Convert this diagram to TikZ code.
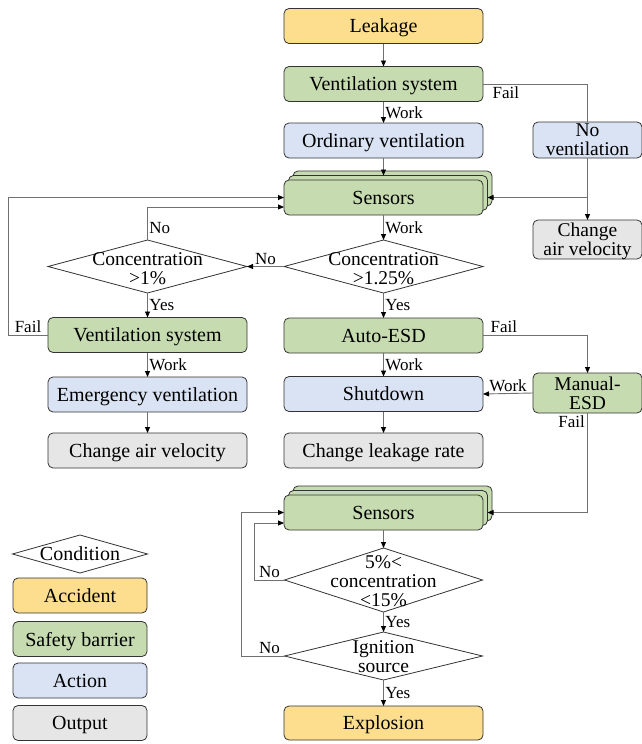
\documentclass[tikz,border=0pt]{standalone}
\usepackage{fontspec}
\setmainfont{Liberation Serif}
\usetikzlibrary{arrows.meta,shapes.geometric,calc}
\definecolor{cyel}{HTML}{FDDE8E}
\definecolor{cgrn}{HTML}{C6DCB0}
\definecolor{cblu}{HTML}{DAE3F3}
\definecolor{cgry}{HTML}{E6E6E6}
\definecolor{cline}{HTML}{707070}
\definecolor{cbord}{HTML}{333333}
\begin{document}
\begin{tikzpicture}[x=1pt,y=-1pt,
  box/.style={rectangle, rounded corners=5pt, draw=cbord, line width=0.8pt,
    minimum width=199pt, minimum height=35pt, inner sep=0pt, outer sep=0pt,
    align=center, text depth=0pt, font=\fontsize{20}{19}\selectfont},
  sbox/.style={box, minimum width=109pt, font=\fontsize{19.5}{19}\selectfont},
  yel/.style={fill=cyel}, grn/.style={fill=cgrn}, blu/.style={fill=cblu}, gry/.style={fill=cgry},
  dia/.style={diamond, draw=cbord, line width=0.8pt, fill=white, inner sep=0pt, outer sep=0pt,
    minimum width=199pt, minimum height=53pt},
  dtext/.style={align=center, inner sep=0pt, font=\fontsize{19.5}{19}\selectfont},
  lab/.style={inner sep=1.5pt, font=\fontsize{17}{17}\selectfont},
  con/.style={draw=cline, line width=0.9pt},
  arr/.style={con, -{Triangle[length=6pt,width=5pt,color=black]}},
]
\useasboundingbox (0,0) rectangle (642,744);

% main column
\node[box,yel] (leak) at (383.5,26) {Leakage};
\node[box,grn] (vs) at (383.5,84) {Ventilation system};
\node[box,blu] (ov) at (383.5,140.5) {Ordinary ventilation};
\node[box,grn] (s1c) at (392.5,188.5) {};
\node[box,grn] (s1b) at (388,193) {};
\node[box,grn] (s1) at (383.5,197.5) {Sensors};
\node[dia] (d125) at (383.5,266.5) {};
\node[dtext] (d125t) at (383.5,269) {Concentration\\>1.25\%};
\node[box,grn] (aesd) at (383.5,335.5) {Auto-ESD};
\node[box,blu] (shut) at (383.5,394) {Shutdown};
\node[box,gry] (clr) at (383.5,450.5) {Change leakage rate};

% right column
\node[sbox,blu,minimum height=36pt] (nov) at (587.5,140) {No\\ventilation};
\node[sbox,gry,minimum height=39pt] (cav1) at (587.5,239.5) {Change\\air velocity};
\node[sbox,grn,minimum height=40pt] (mesd) at (587.5,393) {Manual-\\ESD};

% left column
\node[dia] (d1) at (147.5,266.5) {};
\node[dtext] (d1t) at (147.5,269) {Concentration\\>1\%};
\node[box,grn] (lvs) at (147.5,335) {Ventilation system};
\node[box,blu] (ev) at (147.5,394.5) {Emergency ventilation};
\node[box,gry] (cav2) at (147.5,450.5) {Change air velocity};

% lower part
\node[box,grn] (s2c) at (392.5,503.5) {};
\node[box,grn] (s2b) at (388,508) {};
\node[box,grn] (s2) at (383.5,512.5) {Sensors};
\node[dia,minimum width=198pt,minimum height=64pt] (d5) at (383.5,580) {};
\node[dtext] (d5t) at (383.5,581) {5\%<\\concentration\\<15\%};
\node[dia,minimum width=198pt,minimum height=48pt] (dig) at (383.5,656) {};
\node[dtext] (digt) at (383.5,657) {Ignition\\source};
\node[box,yel,minimum height=34pt] (exp) at (383.5,723) {Explosion};

% legend
\node[dia,minimum width=135pt,minimum height=38pt] (lcond) at (80,554) {};
\node[dtext,font=\fontsize{20}{20}\selectfont] (lcondt) at (80,554) {Condition};
\node[box,yel,minimum width=134pt] (lacc) at (80,595.5) {Accident};
\node[box,grn,minimum width=134pt] (lsb) at (80,639) {Safety barrier};
\node[box,blu,minimum width=134pt] (lact) at (80,680.5) {Action};
\node[box,gry,minimum width=134pt] (lout) at (80,723) {Output};

% connectors main
\draw[arr] (leak.south) -- (vs.north);
\draw[arr] (vs.south) -- node[lab,right]{Work} (ov.north);
\draw[con] (vs.east) -| (nov.north);
\node[lab,anchor=north west] (f1) at ([xshift=8pt,yshift=-1pt]vs.east) {Fail};
\draw[arr] (nov.south) -- (cav1.north);
\draw[arr] (nov.south |- s1.east) -- (s1b.east |- s1.east);
\draw[arr] (ov.south) -- (ov.south |- s1b.north);
\draw[arr] (s1.south) -- node[lab,right]{Work} (d125.north);
\draw[arr] (d125.west) -- node[lab,above]{No} (d1.east);
\draw[arr] (d1.north) |- node[lab,right,pos=0.18]{No} ([yshift=-9.5pt]s1.west);
\draw[arr] (d1.south) -- node[lab,right]{Yes} (lvs.north);
\draw[arr] (lvs.west) -- node[lab,above]{Fail} ++(-40,0) |- (s1.west);
\draw[arr] (lvs.south) -- node[lab,right]{Work} (ev.north);
\draw[arr] (ev.south) -- (cav2.north);
\draw[arr] (d125.south) -- node[lab,right]{Yes} (aesd.north);
\draw[arr] (aesd.south) -- node[lab,right]{Work} (shut.north);
\draw[arr] (shut.south) -- (clr.north);
\draw[arr] (aesd.east) -| (mesd.north);
\node[lab,anchor=south west] (f2) at ([xshift=6pt,yshift=1pt]aesd.east) {Fail};
\draw[arr] (mesd.west) -- node[lab,above]{Work} (shut.east);
\draw[arr] (mesd.south) |- (s2b.east |- s2.east);
\node[lab,anchor=north east] (f3) at ([xshift=-1pt,yshift=-1pt]mesd.south) {Fail};
\draw[arr] (s2.south) -- (d5.north);
\draw[arr] (d5.south) -- node[lab,right]{Yes} (dig.north);
\draw[arr] (dig.south) -- node[lab,right]{Yes} (exp.north);
\draw[arr] (d5.west) -- node[lab,above]{No} ++(-30,0) |- ([yshift=-10.5pt]s2.west);
\draw[arr] (dig.west) -- ++(-43,0) |- (s2.west);
\node[lab,anchor=south] (n4) at ([xshift=-15pt,yshift=1pt]dig.west) {No};
\end{tikzpicture}
\end{document}
